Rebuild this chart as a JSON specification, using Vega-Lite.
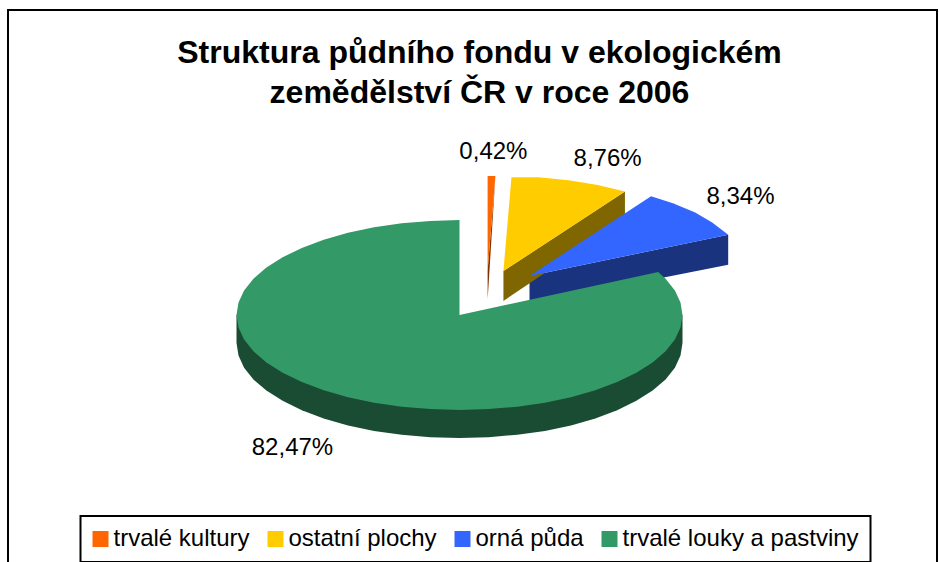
{
"$schema":"https://vega.github.io/schema/vega-lite/v6.json",
"width":929,"height":553,
"padding":{"left":8,"top":10,"right":2,"bottom":0},
"autosize":{"type":"none"},
"background":"white",
"view":{"stroke":"black","strokeWidth":2,"fill":"white"},
"title":{"text":["Struktura půdního fondu v ekologickém","zemědělství ČR v roce 2006"],"font":"Liberation Sans","fontWeight":"bold","fontSize":32,"color":"black","anchor":"middle","frame":"group","baseline":"alphabetic","lineHeight":40,"offset":-125,"dx":7},
"projection":{"type":"identity","reflectY":true,"scale":2.23,"translate":[451.5,305]},
"datasets":{
"walls":[
{"slice":"trvalé louky a pastviny","geometry":{"type":"Polygon","coordinates":[[[100,0],[100,-12.6],[99.1,-18.2],[96.6,-23.6],[92.4,-28.9],[86.6,-33.9],[79.3,-38.5],[70.7,-42.7],[60.9,-46.4],[50,-49.5],[38.3,-52],[25.9,-53.7],[13.1,-54.8],[0,-55.2],[-13.1,-54.8],[-25.9,-53.7],[-38.3,-52],[-50,-49.5],[-60.9,-46.4],[-70.7,-42.7],[-79.3,-38.5],[-86.6,-33.9],[-92.4,-28.9],[-96.6,-23.6],[-99.1,-18.2],[-100,-12.6],[-100,0],[100,0]]]}},
{"slice":"orná půda","geometry":{"type":"Polygon","coordinates":[[[31.4,17.5],[120.5,36],[120.5,22.5],[31.4,4.9],[31.4,17.5]]]}},
{"slice":"ostatní plochy","geometry":{"type":"Polygon","coordinates":[[[19.7,19.7],[74.2,55.4],[74.2,43],[19.7,6.3],[19.7,19.7]]]}},
{"slice":"trvalé kultury","geometry":{"type":"Polygon","coordinates":[[[16.1,62.3],[12.6,19.7],[12.6,6.7],[16.1,62.3]]]}}
],
"faces":[
{"slice":"orná půda","share":8.34,"geometry":{"type":"Polygon","coordinates":[[[31.4,17.5],[85.9,53.2],[95.7,50.1],[105.7,46],[113.3,41.5],[120.5,36],[31.4,17.5]]]}},
{"slice":"ostatní plochy","share":8.76,"geometry":{"type":"Polygon","coordinates":[[[19.7,19.7],[23.3,61.8],[35.3,61.8],[48.9,60.4],[62,58.3],[74.2,55.4],[19.7,19.7]]]}},
{"slice":"trvalé kultury","share":0.42,"geometry":{"type":"Polygon","coordinates":[[[12.6,19.7],[12.6,62.3],[16.1,62.3],[12.6,19.7]]]}},
{"slice":"trvalé louky a pastviny","share":82.47,"geometry":{"type":"Polygon","coordinates":[[[0,0],[89.1,19.3],[92.4,16.3],[96.6,11],[99.1,5.6],[100,0],[99.1,-5.6],[96.6,-11],[92.4,-16.3],[86.6,-21.3],[79.3,-25.9],[70.7,-30.1],[60.9,-33.8],[50,-36.9],[38.3,-39.4],[25.9,-41.1],[13.1,-42.2],[0,-42.6],[-13.1,-42.2],[-25.9,-41.1],[-38.3,-39.4],[-50,-36.9],[-60.9,-33.8],[-70.7,-30.1],[-79.3,-25.9],[-86.6,-21.3],[-92.4,-16.3],[-96.6,-11],[-99.1,-5.6],[-100,0],[-99.1,5.6],[-96.6,11],[-92.4,16.3],[-86.6,21.3],[-79.3,25.9],[-70.7,30.1],[-60.9,33.8],[-50,36.9],[-38.3,39.4],[-25.9,41.1],[-13.1,42.2],[0,42.6],[0,0]]]}}
],
"labels":[
{"label":"0,42%","lon":15.2,"lat":73.1},
{"label":"8,76%","lon":66.4,"lat":70},
{"label":"8,34%","lon":126,"lat":52.9},
{"label":"82,47%","lon":-74.9,"lat":-59.6}
]
},
"layer":[
{"data":{"name":"walls"},"mark":{"type":"geoshape","strokeWidth":0},
"encoding":{"shape":{"field":"geometry","type":"geojson"},
"color":{"field":"slice","type":"nominal","legend":null,"scale":{"domain":["trvalé kultury","ostatní plochy","orná půda","trvalé louky a pastviny"],"range":["#7F3300","#7F6600","#19337F","#1A4C33"]}}}},
{"data":{"name":"faces"},"mark":{"type":"geoshape","strokeWidth":0},
"encoding":{"shape":{"field":"geometry","type":"geojson"},
"color":{"field":"slice","type":"nominal","sort":null,"scale":{"domain":["trvalé kultury","ostatní plochy","orná půda","trvalé louky a pastviny"],"range":["#FF6600","#FFCC00","#3366FF","#339966"]},
"legend":{"title":null,"orient":"none","legendX":72.5,"legendY":506,"direction":"horizontal","columns":4,"symbolType":"square","symbolSize":256,"symbolStrokeWidth":0,"symbolOffset":-3,"labelFont":"Liberation Sans","labelFontSize":24,"labelColor":"black","labelLimit":400,"labelOffset":1,"columnPadding":16,"padding":11,"strokeColor":"black","fillColor":"white","gridAlign":"each"}}}},
{"data":{"name":"labels"},"mark":{"type":"text","font":"Liberation Sans","fontSize":24,"color":"black","align":"center","baseline":"middle"},
"encoding":{"longitude":{"field":"lon","type":"quantitative"},"latitude":{"field":"lat","type":"quantitative"},"text":{"field":"label"}}}
],
"resolve":{"scale":{"color":"independent"}},
"config":{"legend":{"strokeWidth":2}}
}
